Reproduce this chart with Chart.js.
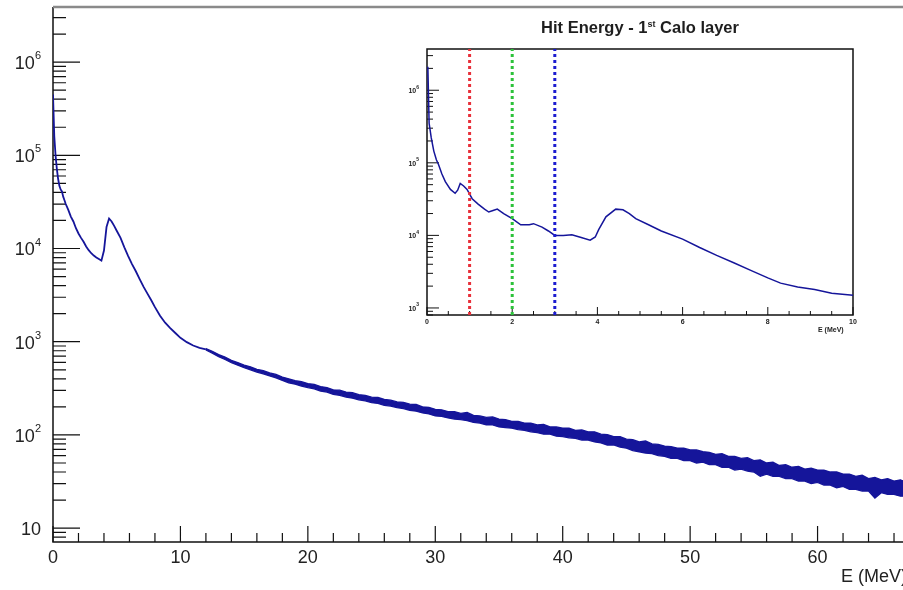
<!DOCTYPE html>
<html>
<head>
<meta charset="utf-8">
<script src="https://cdn.jsdelivr.net/npm/chart.js@4.4.1/dist/chart.umd.min.js"></script>
<style>
  html, body { margin: 0; padding: 0; background: #fff; }
  body { width: 903px; height: 590px; overflow: hidden; position: relative; font-family: "Liberation Sans", Arial, sans-serif; }
  #main { position: absolute; left: 0; top: 0; }
  #inset { position: absolute; left: 395px; top: 40px; background: #fff; }
  .inset-title { position: absolute; left: 427px; width: 426px; top: 18px; text-align: center;
                 font-weight: bold; font-size: 16.5px; color: #1e1e1e; }
  .inset-title sup { font-size: 9px; }
  .xtitle-main { position: absolute; right: -4px; top: 566px; font-size: 18px; color: #222; }
  .xtitle-inset { position: absolute; left: 818px; top: 326px; font-size: 7px; font-weight: bold; color: #222; }
</style>
</head>
<body>
<canvas id="main" width="960" height="590"></canvas>
<canvas id="inset" width="470" height="300"></canvas>
<div class="inset-title">Hit Energy - 1<sup>st</sup> Calo layer</div>
<div class="xtitle-main">E (MeV)</div>
<div class="xtitle-inset">E (MeV)</div>
<script>
// main spectrum, low energy part: energy (MeV) and counts
const MAIN_E = [
  0, 0.1, 0.2, 0.3, 0.4, 0.5, 0.6, 0.7, 0.8, 0.9, 1.0, 1.2, 1.4, 1.6, 1.8, 2.0, 2.2, 2.4, 2.6, 2.8,
  3.0, 3.2, 3.4, 3.6, 3.8, 4.0, 4.2, 4.4, 4.6, 4.8, 5.0, 5.3, 5.6, 5.9, 6.2, 6.5, 6.8, 7.1, 7.4, 7.7,
  8.0, 8.4, 8.8, 9.2, 9.6, 10.0, 10.5, 11.0, 11.5, 12.0
];
const MAIN_COUNTS = [
  450000, 160000, 100000, 72000, 56000, 47000, 43000, 41000, 36000, 33000, 30000, 26000, 22000, 19500, 16500, 14500, 13000, 11800, 10500, 9600,
  8900, 8400, 8000, 7700, 7400, 9500, 17000, 21000, 19500, 17500, 15500, 13000, 10300, 8300, 6800, 5700, 4700, 3900, 3300, 2800,
  2350, 1900, 1600, 1400, 1240, 1100, 990, 910, 860, 830
];

// noisy tail: upper and lower edge of the fluctuation band
const TAIL_E = [
  12.0, 12.5, 13.0, 13.5, 14.0, 14.5, 15.0, 15.5, 16.0, 16.5, 17.0, 17.5, 18.0, 18.5, 19.0, 19.5,
  20.0, 20.5, 21.0, 21.5, 22.0, 22.5, 23.0, 23.5, 24.0, 24.5, 25.0, 25.5, 26.0, 26.5, 27.0, 27.5,
  28.0, 28.5, 29.0, 29.5, 30.0, 30.5, 31.0, 31.5, 32.0, 32.5, 33.0, 33.5, 34.0, 34.5, 35.0, 35.5,
  36.0, 36.5, 37.0, 37.5, 38.0, 38.5, 39.0, 39.5, 40.0, 40.5, 41.0, 41.5, 42.0, 42.5, 43.0, 43.5,
  44.0, 44.5, 45.0, 45.5, 46.0, 46.5, 47.0, 47.5, 48.0, 48.5, 49.0, 49.5, 50.0, 50.5, 51.0, 51.5,
  52.0, 52.5, 53.0, 53.5, 54.0, 54.5, 55.0, 55.5, 56.0, 56.5, 57.0, 57.5, 58.0, 58.5, 59.0, 59.5,
  60.0, 60.5, 61.0, 61.5, 62.0, 62.5, 63.0, 63.5, 64.0, 64.5, 65.0, 65.5, 66.0, 66.5, 67.0
];
const TAIL_HIGH = [
  845, 790, 728, 685, 630, 598, 560, 538, 505, 490, 462, 446, 418, 400, 382, 372,
  356, 348, 330, 322, 305, 302, 288, 284, 270, 266, 254, 252, 240, 236, 226, 224,
  214, 212, 200, 198, 188, 186, 178, 178, 170, 174, 162, 160, 154, 156, 148, 146,
  140, 140, 134, 134, 128, 130, 122, 122, 118, 118, 112, 113, 108, 108, 102, 101,
  96, 96, 90, 89, 84, 86, 80, 79, 76, 75, 72, 72, 69, 69, 66, 65,
  62, 63, 59, 59, 56, 57, 53, 54, 50, 51, 47, 48, 45, 46, 43, 44,
  42, 42, 40, 40, 38, 38, 36, 37, 34, 35, 33, 34, 32, 33, 31
];
const TAIL_LOW = [
  815, 752, 690, 645, 598, 560, 526, 500, 472, 452, 430, 410, 384, 362, 350, 334,
  322, 312, 296, 288, 272, 266, 255, 248, 238, 232, 222, 218, 208, 204, 196, 192,
  184, 180, 172, 168, 160, 158, 152, 148, 146, 142, 136, 134, 128, 128, 122, 120,
  118, 114, 112, 108, 106, 102, 102, 97, 96, 93, 92, 88, 88, 84, 82, 78,
  78, 74, 72, 68, 66, 64, 63, 60, 59, 56, 56, 53, 53, 50, 51, 48,
  48, 45, 45, 42, 43, 41, 40, 36, 38, 36, 36, 34, 34, 32, 32, 30,
  31, 29, 29, 27, 28, 26, 26, 25, 25, 21, 24, 23, 23, 22, 22
];

// inset: first calo layer, 0-10 MeV
const INSET_E = [
  0.02, 0.05, 0.1, 0.16, 0.22, 0.27, 0.35, 0.43, 0.55, 0.66, 0.72, 0.78, 0.86, 0.94, 1.06, 1.2, 1.35, 1.45,
  1.55, 1.65, 1.8, 2.0, 2.2, 2.4, 2.5, 2.7, 2.85, 3.0, 3.2, 3.4, 3.6, 3.83, 3.95, 4.03, 4.2, 4.43, 4.6,
  4.75, 4.9, 5.2, 5.5, 6.0, 6.4, 6.8, 7.2, 7.6, 8.0, 8.3, 8.7, 9.1, 9.5, 10.0
];
const INSET_COUNTS = [
  2100000, 350000, 220000, 145000, 110000, 95000, 70000, 55000, 43000, 38000, 42000, 52000, 48000, 43000, 32000, 27000, 23000, 21000,
  22000, 23000, 20000, 17000, 14000, 14000, 14500, 13000, 11500, 10000, 10000, 10200, 9400, 8600, 9500, 12000, 18000, 23000, 22500,
  20000, 17000, 14000, 11500, 8900, 6800, 5300, 4200, 3300, 2600, 2200, 1950, 1800, 1600, 1500
];
const CUT_E = [1, 2, 3];
const CUT_COLORS = ['#e8303a', '#2cc23a', '#1c1cd0'];

// axis labels
const MAIN_Y_DECADES = [1, 2, 3, 4, 5, 6];
const INSET_Y_DECADES = [3, 4, 5, 6];

const LINE_BLUE = '#15159a';
Chart.defaults.font.family = '"Liberation Sans", Arial, sans-serif';

// ROOT-like frame: inward ticks, log labels with exponents
const rootFrame = {
  id: 'rootFrame',
  beforeDatasetsDraw(chart, args, o) {
    const { ctx, chartArea: a } = chart;
    const x = chart.scales.x, y = chart.scales.y;
    ctx.save();
    ctx.strokeStyle = '#111';
    ctx.lineWidth = o.tickWidth;
    ctx.beginPath();
    const nMinor = Math.round((x.max - x.min) / o.xMinorStep);
    for (let i = 0; i <= nMinor; i++) {
      const v = x.min + i * o.xMinorStep;
      const r = v / o.xMajorStep;
      const major = Math.abs(r - Math.round(r)) < 1e-6;
      const px = x.getPixelForValue(v);
      ctx.moveTo(px, a.bottom);
      ctx.lineTo(px, a.bottom - (major ? o.xMajor : o.xMinor));
    }
    const d0 = Math.floor(Math.log10(y.min)), d1 = Math.ceil(Math.log10(y.max));
    for (let d = d0; d <= d1; d++) {
      for (let k = 1; k <= 9; k++) {
        const v = k * Math.pow(10, d);
        if (v < y.min || v > y.max) continue;
        const py = y.getPixelForValue(v);
        ctx.moveTo(a.left, py);
        ctx.lineTo(a.left + (k === 1 ? o.yMajor : o.yMinor), py);
      }
    }
    ctx.stroke();

    // frame
    ctx.lineWidth = o.frameWidth;
    ctx.strokeStyle = '#111';
    ctx.beginPath();
    ctx.moveTo(a.left, a.top);
    ctx.lineTo(a.left, a.bottom);
    ctx.lineTo(a.right, a.bottom);
    if (o.closed) {
      ctx.lineTo(a.right, a.top);
      ctx.closePath();
    }
    ctx.stroke();
    if (!o.closed) {
      ctx.strokeStyle = o.topColor;
      ctx.lineWidth = o.topWidth;
      ctx.beginPath();
      ctx.moveTo(a.left, a.top);
      ctx.lineTo(a.right, a.top);
      ctx.stroke();
    }

    // y labels
    ctx.fillStyle = '#222';
    ctx.textBaseline = 'middle';
    o.decades.forEach(e => {
      const py = y.getPixelForValue(Math.pow(10, e));
      const right = a.left - o.labelGap;
      if (e === 1) {
        ctx.font = o.baseFont;
        ctx.textAlign = 'right';
        ctx.fillText('10', right, py + o.baseShift);
        return;
      }
      ctx.font = o.expFont;
      const ew = ctx.measureText(String(e)).width;
      ctx.textAlign = 'left';
      ctx.fillText(String(e), right - ew, py - o.expRaise);
      ctx.font = o.baseFont;
      ctx.textAlign = 'right';
      ctx.fillText('10', right - ew, py + o.baseShift);
    });
    ctx.restore();
  }
};

function xy(xs, ys) {
  return xs.map((e, i) => ({ x: e, y: ys[i] }));
}

new Chart(document.getElementById('main'), {
  type: 'line',
  data: {
    datasets: [{
      data: xy(MAIN_E, MAIN_COUNTS),
      borderColor: LINE_BLUE,
      borderWidth: 1.8,
      pointRadius: 0,
      fill: false
    }, {
      data: xy(TAIL_E, TAIL_HIGH),
      borderColor: LINE_BLUE,
      borderWidth: 1.3,
      pointRadius: 0,
      fill: false
    }, {
      data: xy(TAIL_E, TAIL_LOW),
      borderColor: LINE_BLUE,
      backgroundColor: LINE_BLUE,
      borderWidth: 1.3,
      pointRadius: 0,
      fill: '-1'
    }]
  },
  plugins: [rootFrame],
  options: {
    responsive: false,
    animation: false,
    events: [],
    layout: { padding: { top: 7, right: 14.5, left: 0, bottom: 0 } },
    plugins: {
      legend: { display: false },
      tooltip: { enabled: false },
      filler: { propagate: false },
      rootFrame: {
        tickWidth: 1.2, frameWidth: 1.5, closed: false, topColor: '#8a8a8a', topWidth: 2.5,
        xMinorStep: 2, xMajorStep: 10, xMajor: 16, xMinor: 9, yMajor: 27, yMinor: 13,
        decades: MAIN_Y_DECADES, labelGap: 12,
        baseFont: '18px "Liberation Sans", Arial, sans-serif',
        expFont: '11px "Liberation Sans", Arial, sans-serif',
        baseShift: 2, expRaise: 6
      }
    },
    scales: {
      x: {
        type: 'linear', min: 0, max: 70,
        afterFit: s => { s.height = 48; },
        grid: { display: false, drawTicks: false },
        border: { display: false },
        ticks: { stepSize: 10, padding: 5, maxRotation: 0, color: '#222', font: { size: 18 } }
      },
      y: {
        type: 'logarithmic', min: 7.1, max: 3.9e6,
        afterFit: s => { s.width = 53; },
        grid: { display: false, drawTicks: false },
        border: { display: false },
        ticks: { display: false }
      }
    }
  }
});

const INSET_Y_MIN = 800, INSET_Y_MAX = 3.7e6;
const cutSets = CUT_E.map((e, i) => ({
  data: [{ x: e, y: INSET_Y_MIN }, { x: e, y: INSET_Y_MAX }],
  borderColor: CUT_COLORS[i],
  borderWidth: 3,
  borderDash: [3, 3],
  pointRadius: 0,
  fill: false
}));

new Chart(document.getElementById('inset'), {
  type: 'line',
  data: {
    datasets: cutSets.concat([{
      data: xy(INSET_E, INSET_COUNTS),
      borderColor: LINE_BLUE,
      borderWidth: 1.5,
      pointRadius: 0,
      fill: false
    }])
  },
  plugins: [rootFrame],
  options: {
    responsive: false,
    animation: false,
    events: [],
    layout: { padding: { top: 9, right: 12, left: 0, bottom: 0 } },
    plugins: {
      legend: { display: false },
      tooltip: { enabled: false },
      rootFrame: {
        tickWidth: 1, frameWidth: 1.5, closed: true,
        xMinorStep: 0.5, xMajorStep: 2, xMajor: 8, xMinor: 4, yMajor: 12, yMinor: 6,
        decades: INSET_Y_DECADES, labelGap: 8,
        baseFont: 'bold 7px "Liberation Sans", Arial, sans-serif',
        expFont: 'bold 5px "Liberation Sans", Arial, sans-serif',
        baseShift: 1, expRaise: 3
      }
    },
    scales: {
      x: {
        type: 'linear', min: 0, max: 10,
        afterFit: s => { s.height = 25; },
        grid: { display: false, drawTicks: false },
        border: { display: false },
        ticks: { stepSize: 2, padding: 3, maxRotation: 0, color: '#222', font: { size: 7, weight: 'bold' } }
      },
      y: {
        type: 'logarithmic', min: INSET_Y_MIN, max: INSET_Y_MAX,
        afterFit: s => { s.width = 32; },
        grid: { display: false, drawTicks: false },
        border: { display: false },
        ticks: { display: false }
      }
    }
  }
});
</script>
</body>
</html>
